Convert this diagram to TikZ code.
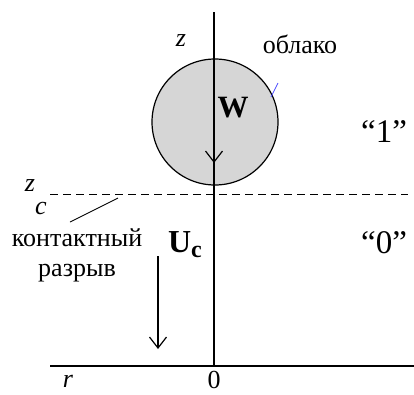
\documentclass[tikz,border=0pt]{standalone}
\usepackage{fontspec}
\setmainfont{Liberation Serif}
\usetikzlibrary{arrows.meta}
\begin{document}
\begin{tikzpicture}[x=1pt, y=-1pt, font=\fontsize{26}{30}\selectfont,
	axis/.style={line width=1.5pt},
	vec/.style={-{Straight Barb[length=11pt,width=17pt,line width=1.2pt]}, line width=1.2pt}]
	\useasboundingbox (0,0) rectangle (414,394);
	% Oblako
	\fill[black!16] (215,122) circle (63);
	\draw[line width=1.2pt] (215,122) circle (63);
	\draw[blue!70, line width=0.7pt] (271,97) -- (278,83);
	% Osi
	\coordinate (top) at (214,12);
	\coordinate (o) at (214,366);
	\coordinate (left) at (50,366);
	\coordinate (right) at (414,366);
	\draw[axis] (top) -- (o);
	\draw[axis] (left) -- (right);
	\node (zlab) at (181,41) {\textit{z}};
	\node (rlab) at (68,381) {\textit{r}};
	\node (null) at (214,380) {0};
	% Kontaktnyj razryv
	\coordinate (zcl) at (50,194);
	\coordinate (zcr) at (408,194);
	\draw[line width=1pt, dash pattern=on 8pt off 5pt] (zcl) -- (zcr);
	\node (zc) at (30,186) {\textit{z}};
	\node (zcidx) at (41,208) {\textit{c}};
	\node[align=center] (razryv) at (77,255) {контактный\\разрыв};
	\coordinate (razryvtip) at (118,198);
	\draw[line width=0.9pt] (70,222) -- (razryvtip);
	% Skorosti
	\node[font=\fontsize{31}{31}\selectfont\bfseries] (w) at (233,108) {W};
	\coordinate (wa) at (214,126);
	\coordinate (wb) at (214,163);
	\draw[vec] (wa) -- (wb);
	\node (uc) at (185,245) {\fontsize{32}{32}\selectfont\bfseries U\raisebox{-5pt}{\fontsize{24}{24}\selectfont c}};
	\coordinate (ua) at (158,256);
	\coordinate (ub) at (158,349);
	\draw[vec] (ua) -- (ub);
	% Podpisi
	\node (oblako) at (300,44) {облако};
	\node[font=\fontsize{33}{33}\selectfont] (one) at (384,132) {“1”};
	\node[font=\fontsize{33}{33}\selectfont] (zero) at (384,243) {“0”};
\end{tikzpicture}
\end{document}
